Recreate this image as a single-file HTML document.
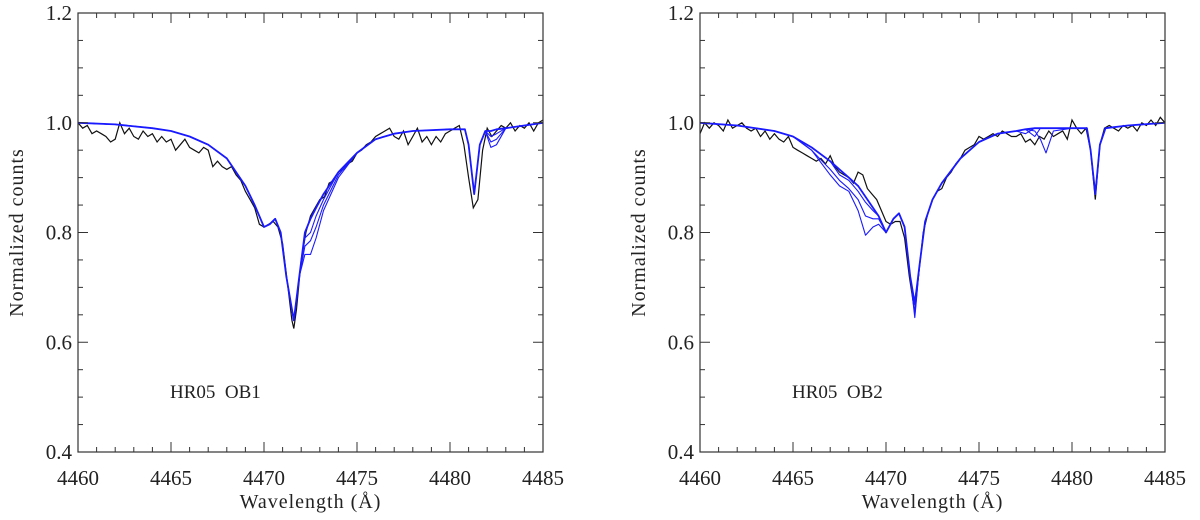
<!DOCTYPE html>
<html><head><meta charset="utf-8"><style>
body{margin:0;background:#fff;}
svg text{font-family:"Liberation Serif","DejaVu Serif",serif;fill:#222;}
</style></head><body>
<svg id="chart" width="1200" height="515" viewBox="0 0 1200 515" xmlns="http://www.w3.org/2000/svg"></svg>
<script>
// ---- data ----
const xTicks = [4460,4465,4470,4475,4480,4485];
const yTicks = [0.4,0.6,0.8,1.0,1.2];
const yTickLabels = ["0.4","0.6","0.8","1.0","1.2"];
const panelLabels = ["HR05  OB1","HR05  OB2"];

const obsWlL = [4460,4460.25,4460.5,4460.75,4461,4461.25,4461.5,4461.75,4462,4462.25,4462.5,4462.75,4463,4463.25,4463.5,4463.75,4464,4464.25,4464.5,4464.75,4465,4465.25,4465.5,4465.75,4466,4466.25,4466.5,4466.75,4467,4467.25,4467.5,4467.75,4468,4468.25,4468.5,4468.75,4469,4469.25,4469.5,4469.75,4470,4470.25,4470.5,4470.75,4471,4471.25,4471.5,4471.6,4471.75,4472,4472.25,4472.5,4472.75,4473,4473.25,4473.5,4473.75,4474,4474.25,4474.5,4474.75,4475,4475.25,4475.5,4475.75,4476,4476.25,4476.5,4476.75,4477,4477.25,4477.5,4477.75,4478,4478.25,4478.5,4478.75,4479,4479.25,4479.5,4479.75,4480,4480.25,4480.5,4480.75,4481,4481.25,4481.5,4481.75,4482,4482.25,4482.5,4482.75,4483,4483.25,4483.5,4483.75,4484,4484.25,4484.5,4484.75,4485];
const obsFluxL = [1.0,0.99,0.995,0.98,0.985,0.98,0.975,0.965,0.97,1.0,0.98,0.99,0.975,0.97,0.985,0.975,0.98,0.965,0.975,0.965,0.97,0.95,0.96,0.97,0.955,0.95,0.945,0.955,0.95,0.92,0.93,0.92,0.915,0.92,0.905,0.895,0.875,0.86,0.845,0.815,0.81,0.815,0.82,0.81,0.78,0.71,0.64,0.625,0.66,0.75,0.8,0.83,0.845,0.86,0.865,0.89,0.895,0.91,0.915,0.925,0.93,0.945,0.95,0.96,0.965,0.975,0.98,0.985,0.99,0.975,0.97,0.985,0.96,0.975,0.99,0.965,0.975,0.96,0.975,0.965,0.98,0.985,0.99,0.995,0.96,0.9,0.845,0.86,0.95,0.99,0.975,0.985,0.995,0.99,1.0,0.985,0.995,0.99,1.0,0.985,1.0,1.005];

const modWlL = [4460,4462,4464,4465,4466,4467,4468,4469,4469.5,4470,4470.3,4470.6,4470.9,4471.2,4471.6,4471.9,4472.2,4472.5,4472.8,4473.2,4474,4475,4476,4477,4478,4480,4480.8,4481.0,4481.3,4481.6,4481.9,4482.2,4482.5,4483,4485];
const modL0 = [1.0,.997,.99,.985,.975,.96,.935,.885,.85,.81,.815,.825,.8,.72,.64,.72,.80,.825,.845,.87,.91,.945,.97,.98,.985,.988,.988,.96,.87,.96,.985,.985,.988,.99,1.0];
const modL1 = [1.0,.997,.99,.985,.975,.96,.935,.885,.85,.81,.815,.825,.8,.72,.64,.72,.79,.80,.83,.86,.91,.945,.97,.98,.985,.988,.988,.96,.87,.96,.985,.975,.98,.99,1.0];
const modL2 = [1.0,.997,.99,.985,.975,.96,.935,.885,.85,.81,.815,.825,.8,.72,.64,.72,.775,.785,.81,.85,.905,.945,.97,.98,.985,.988,.988,.96,.87,.96,.985,.965,.97,.99,1.0];
const modL3 = [1.0,.997,.99,.985,.975,.96,.935,.885,.85,.81,.815,.825,.8,.72,.64,.72,.76,.76,.79,.84,.90,.945,.97,.98,.985,.988,.988,.96,.87,.96,.985,.955,.96,.99,1.0];

const obsWlR = obsWlL.filter(w => w !== 4471.6);
const obsFluxR = [0.98,1.0,0.99,1.0,0.995,0.985,1.005,0.99,0.995,1.0,0.99,0.985,0.99,0.975,0.985,0.97,0.98,0.97,0.965,0.975,0.955,0.95,0.945,0.94,0.935,0.93,0.935,0.925,0.94,0.92,0.91,0.905,0.9,0.89,0.91,0.905,0.88,0.87,0.86,0.84,0.82,0.815,0.82,0.82,0.79,0.72,0.665,0.72,0.8,0.835,0.86,0.875,0.88,0.9,0.91,0.925,0.935,0.95,0.955,0.96,0.975,0.97,0.975,0.98,0.975,0.985,0.98,0.975,0.975,0.98,0.965,0.97,0.96,0.975,0.97,0.985,0.975,0.98,0.985,0.97,1.005,0.99,0.98,0.99,0.95,0.86,0.96,0.99,0.995,0.99,0.985,0.995,0.99,0.995,0.985,1.0,0.995,1.005,0.995,1.01,1.0];

const modWlR = [4460,4462,4464,4465,4466,4467,4467.5,4468,4468.5,4468.9,4469.3,4469.6,4470,4470.4,4470.7,4471.0,4471.3,4471.55,4471.8,4472.1,4472.5,4473,4474,4475,4476,4477,4477.5,4478,4478.3,4478.6,4479,4480,4480.8,4481.0,4481.25,4481.5,4481.8,4483,4485];
const modR0 = [1.0,.995,.985,.975,.955,.93,.915,.9,.885,.865,.845,.83,.80,.825,.835,.81,.72,.67,.74,.82,.86,.89,.935,.965,.98,.985,.988,.99,.99,.99,.99,.99,.99,.95,.87,.96,.99,.995,1.0];
const modR1 = [1.0,.995,.985,.975,.955,.93,.905,.895,.875,.855,.84,.83,.80,.825,.835,.81,.72,.655,.74,.82,.86,.89,.935,.965,.98,.985,.98,.99,.99,.99,.99,.99,.99,.95,.87,.96,.99,.995,1.0];
const modR2 = [1.0,.995,.985,.975,.95,.915,.895,.88,.86,.83,.825,.825,.80,.825,.835,.81,.72,.65,.74,.82,.86,.89,.935,.965,.98,.985,.988,.975,.99,.99,.99,.99,.99,.95,.87,.96,.99,.995,1.0];
const modR3 = [1.0,.995,.985,.975,.95,.905,.885,.875,.84,.795,.81,.815,.80,.825,.835,.81,.72,.645,.74,.82,.86,.89,.935,.965,.98,.985,.988,.985,.97,.945,.985,.99,.99,.95,.87,.96,.99,.995,1.0];

// ---- drawing ----
const NS = "http://www.w3.org/2000/svg";
const svg = document.getElementById('chart');
function mk(tag, attrs, parent){ const e=document.createElementNS(NS,tag); for(const k in attrs) e.setAttribute(k,attrs[k]); (parent||svg).appendChild(e); return e; }

const panels = [
 {x0:78,x1:543,obsWl:obsWlL,obsF:obsFluxL,modWl:modWlL,mods:[modL0,modL1,modL2,modL3],label:panelLabels[0],lx:170,name:'ob1'},
 {x0:700,x1:1165,obsWl:obsWlR,obsF:obsFluxR,modWl:modWlR,mods:[modR0,modR1,modR2,modR3],label:panelLabels[1],lx:792,name:'ob2'}
];
const Y0=452, Y1=13, XMIN=4460, XMAX=4485, YMIN=0.4, YMAX=1.2;

panels.forEach(p=>{
  const sx = w => p.x0 + (w-XMIN)/(XMAX-XMIN)*(p.x1-p.x0);
  const sy = v => Y0 - (v-YMIN)/(YMAX-YMIN)*(Y0-Y1);
  const g = mk('g',{});
  
  
  const clip = mk('clipPath',{id:'clip-'+p.name},g);
  mk('rect',{x:p.x0,y:Y1,width:p.x1-p.x0,height:Y0-Y1},clip);

  let d = p.obsWl.map((w,i)=>(i?'L':'M')+sx(w).toFixed(1)+','+sy(p.obsF[i]).toFixed(1)).join('');
  const obs = mk('path',{d:d,fill:'none',stroke:'#111',"stroke-width":1.2,'clip-path':'url(#clip-'+p.name+')'},g);
  
  

  p.mods.forEach((m,k)=>{
    const dd = p.modWl.map((w,i)=>(i?'L':'M')+sx(w).toFixed(1)+','+sy(m[i]).toFixed(1)).join('');
    const ml = mk('path',{d:dd,fill:'none',stroke:'#1a1aff',"stroke-width":k===0?1.8:1.1,'stroke-linejoin':'round','clip-path':'url(#clip-'+p.name+')'},g);
    
    
  });

  const fr = mk('rect',{x:p.x0,y:Y1,width:p.x1-p.x0,height:Y0-Y1,fill:'none',stroke:'#333',"stroke-width":1.2},g);
  
  

  for(let w=XMIN; w<=XMAX; w++){
    const major = (w%5===0), L = major?10:5, x=sx(w);
    mk('line',{x1:x,y1:Y0,x2:x,y2:Y0-L,stroke:'#333'},g);
    mk('line',{x1:x,y1:Y1,x2:x,y2:Y1+L,stroke:'#333'},g);
  }
  xTicks.forEach(w=>{
    const t = mk('text',{x:sx(w),y:485,'text-anchor':'middle','font-size':21},g);
    t.textContent = w;
    
    
  });
  for(let i=0;i<=16;i++){
    const v = YMIN + i*0.05, major = (i%4===0), L = major?10:5, y=sy(v);
    mk('line',{x1:p.x0,y1:y,x2:p.x0+L,y2:y,stroke:'#333'},g);
    mk('line',{x1:p.x1,y1:y,x2:p.x1-L,y2:y,stroke:'#333'},g);
  }
  yTicks.forEach((v,i)=>{
    const t = mk('text',{x:p.x0-6,y:sy(v)+7,'text-anchor':'end','font-size':21},g);
    t.textContent = yTickLabels[i];
    
    
  });
  const xt = mk('text',{x:(p.x0+p.x1)/2,y:508,'text-anchor':'middle','font-size':20,'letter-spacing':'1'},g);
  xt.textContent = 'Wavelength (Å)';
  
  
  const yt = mk('text',{x:0,y:0,'text-anchor':'middle','font-size':20,'letter-spacing':'1',transform:'translate('+(p.x0-55)+','+(Y0+Y1)/2+') rotate(-90)'},g);
  yt.textContent = 'Normalized counts';
  
  
  const pl = mk('text',{x:p.lx,y:398,'font-size':19,style:'white-space:pre'},g);
  pl.textContent = p.label;
  
  
});
</script>
</body></html>
